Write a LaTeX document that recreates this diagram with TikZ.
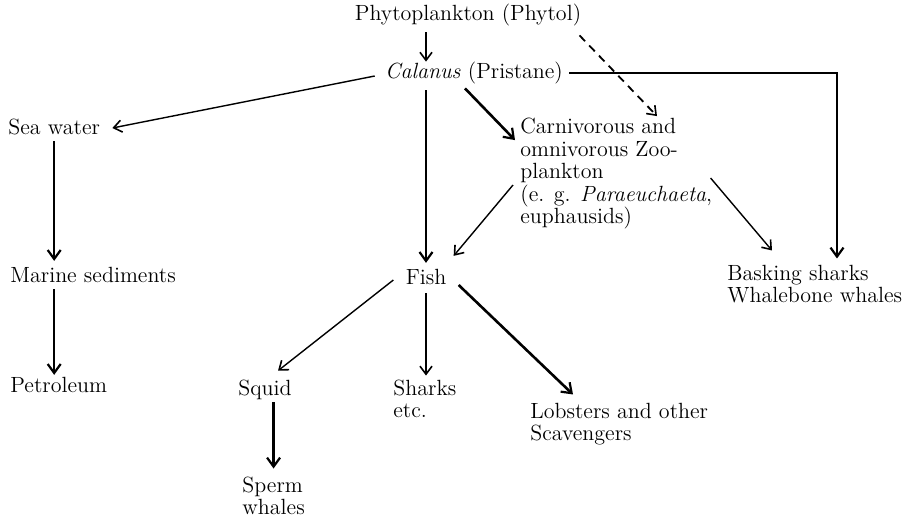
\documentclass[tikz,border=0pt]{standalone}
\usepackage{tikz}
\usetikzlibrary{arrows.meta, calc}

\begin{document}
\begin{tikzpicture}[
  x=0.5pt, y=-0.5pt,
  lbl/.style={inner sep=0pt, align=left, font=\fontsize{11}{11.25}\selectfont},
  arr/.style={-{Straight Barb[length=4pt,width=6pt,line width=0.8pt]}, line width=0.7pt},
  thickarr/.style={-{Straight Barb[length=4.5pt,width=6.5pt,line width=1.1pt]}, line width=1.3pt},
  dasharr/.style={arr, dash pattern=on 4pt off 3pt, line width=0.9pt}
]
\useasboundingbox (0,0) rectangle (912,521);

\node[lbl] (phyto) at (468,15) {Phytoplankton (Phytol)};
\node[lbl] (calanus) at (474,73) {\textit{Calanus} (Pristane)};
\node[lbl, anchor=west] (sea) at (8,127) {Sea water};
\node[lbl, anchor=west] (marine) at (10,275) {Marine sediments};
\node[lbl, anchor=west] (petrol) at (10,385) {Petroleum};
\node[lbl, anchor=west] (zoo) at (520,174) {Carnivorous and\\omnivorous Zoo-\\plankton\\(e. g. \textit{Paraeuchaeta},\\euphausids)};
\node[lbl] (fish) at (426,277) {Fish};
\node[lbl, anchor=west] (basking) at (727,284) {Basking sharks\\Whalebone whales};
\node[lbl, anchor=west] (squid) at (238,390) {Squid};
\node[lbl, anchor=west] (sharks) at (393,399) {Sharks\\etc.};
\node[lbl, anchor=west] (lobsters) at (530,424) {Lobsters and other\\Scavengers};
\node[lbl, anchor=west] (sperm) at (242,496) {Sperm\\whales};

\draw[arr, shorten <=3pt] (phyto.south -| fish.north) -- (calanus.north -| fish.north);
\draw[dasharr] ($(phyto.south east)+(-2,9)$) -- ($(zoo.north west)+(137,-2)$);
\draw[arr] ($(calanus.west)+(-10,3)$) -- ($(sea.east)+(12,1)$);
\draw[thickarr, shorten <=3pt, shorten >=3pt] (calanus.south -| fish.north) -- (fish.north);
\draw[thickarr] ($(calanus.south)+(-9,4)$) -- ($(zoo.north west)+(-5,22)$);
\draw[thickarr, shorten <=3pt] (calanus.east) -| ($(basking.north west)+(110,-6)$);
\draw[arr] ($(zoo.west)+(-7,11)$) -- ($(fish.north east)+(7,-13)$);
\draw[arr] ($(zoo.east)+(-2,4)$) -- ($(basking.north west)+(45,-14)$);
\draw[thickarr, shorten <=3pt, shorten >=3pt] (sea.south) -- (sea.south |- marine.north);
\draw[thickarr, shorten <=3pt, shorten >=1pt] (sea.south |- marine.south) -- (sea.south |- petrol.north);
\draw[arr] ($(fish.west)+(-12,3)$) -- ($(squid.north)+(13,-9)$);
\draw[arr, shorten <=4pt, shorten >=2pt] (fish.south) -- (fish.south |- sharks.north);
\draw[thickarr] ($(fish.east)+(12,8)$) -- ($(lobsters.north west)+(43,-8)$);
\draw[thickarr, shorten <=1pt, shorten >=4pt] (squid.south -| sperm.north) -- (sperm.north);
\end{tikzpicture}
\end{document}
